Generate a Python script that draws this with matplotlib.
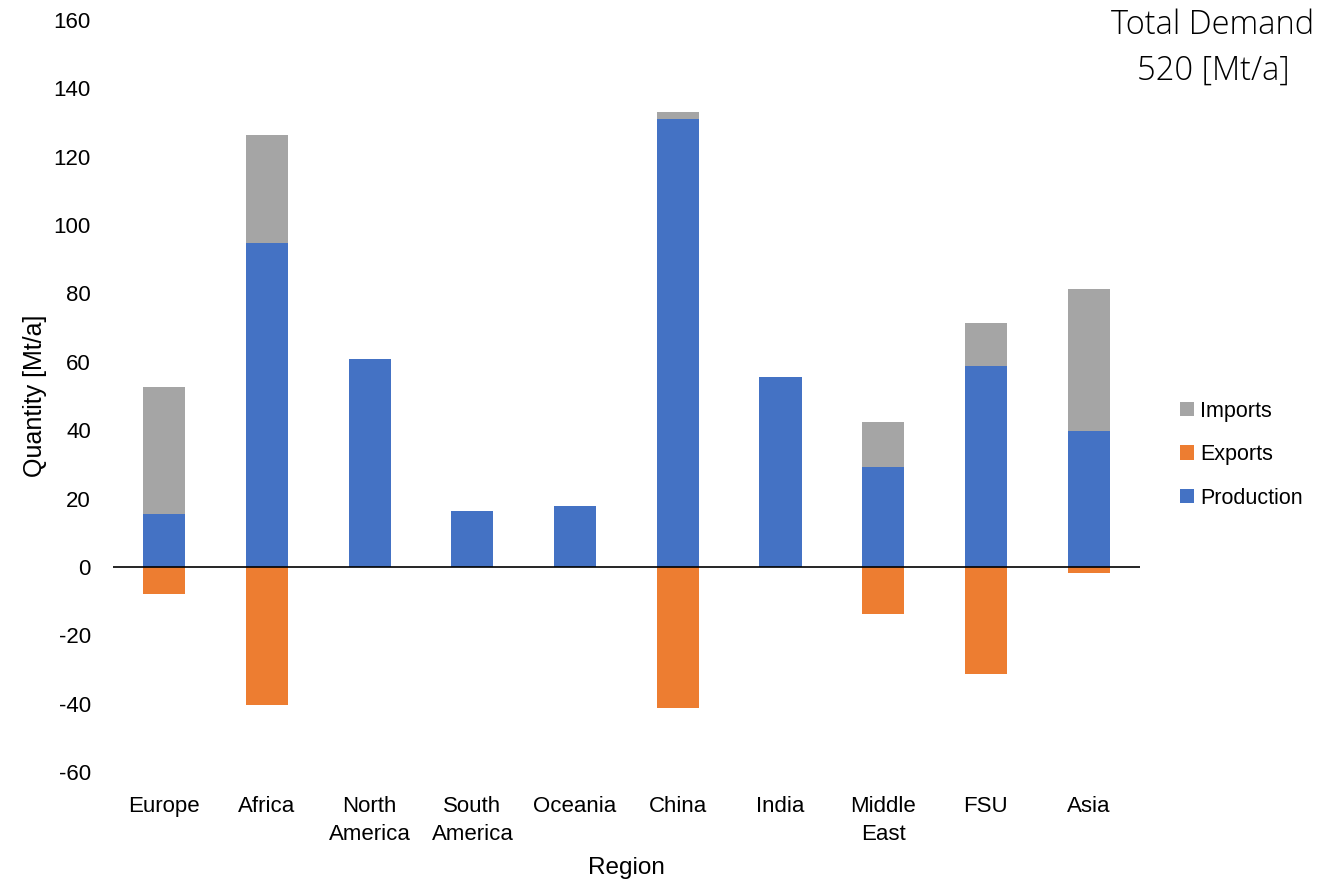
import matplotlib
matplotlib.use("Agg")
import matplotlib.pyplot as plt
import numpy as np

plt.rcParams["font.family"] = ["Liberation Sans", "DejaVu Sans"]
plt.rcParams["axes.unicode_minus"] = False

regions = ["Europe", "Africa", "North\nAmerica", "South\nAmerica", "Oceania",
           "China", "India", "Middle\nEast", "FSU", "Asia"]
production = [15.5, 94.8, 60.9, 16.4, 17.8, 131.0, 55.6, 29.3, 58.8, 39.8]
imports = [37.2, 31.6, 0, 0, 0, 2.0, 0, 13.1, 12.6, 41.5]
exports = [-7.9, -40.4, 0, 0, 0, -41.3, 0, -13.8, -31.3, -1.8]
total_demand = 520

BLUE, ORANGE, GREY = "#4472c4", "#ed7d31", "#a5a5a5"

fig = plt.figure(figsize=(13.2, 8.84), dpi=100)
ax = fig.add_axes([0.0856, 0.1267, 0.778, 0.8507])
x = np.arange(len(regions))
w = 0.41
ax.bar(x, production, w, color=BLUE, label="Production", zorder=2)
ax.bar(x, exports, w, color=ORANGE, label="Exports", zorder=2)
ax.bar(x, imports, w, bottom=production, color=GREY, label="Imports", zorder=2)
ax.axhline(0, color="black", lw=1.2, zorder=3)

ax.set_xlim(-0.5, len(regions) - 0.5)
ax.set_ylim(-60, 160)
ax.set_yticks(np.arange(-60, 161, 20))
ax.set_xticks(x)
ax.set_xticklabels(regions, linespacing=1.45)
ax.tick_params(length=0, labelsize=16)
ax.tick_params(axis="x", pad=17)
ax.tick_params(axis="y", pad=16)
for s in ax.spines.values():
    s.set_visible(False)
ax.set_xlabel("Region", fontsize=17.5, labelpad=9)
ax.set_ylabel("Quantity [Mt/a]", fontsize=18, labelpad=5)

h, l = ax.get_legend_handles_labels()
order = [2, 1, 0]
ax.legend([h[i] for i in order], [l[i] for i in order], loc="center left",
          bbox_to_anchor=(1.02, 0.422), frameon=False, fontsize=15.5,
          handlelength=0.65, handleheight=0.65, handletextpad=0.3,
          labelspacing=1.05)

fig.text(1213 / 1320, 1 - 9 / 884, f"Total Demand\n{total_demand} [Mt/a]",
         ha="center", va="top", fontsize=23.5, family="Open Sans",
         fontweight="light", linespacing=1.45)

fig.savefig("out.png", dpi=100)
